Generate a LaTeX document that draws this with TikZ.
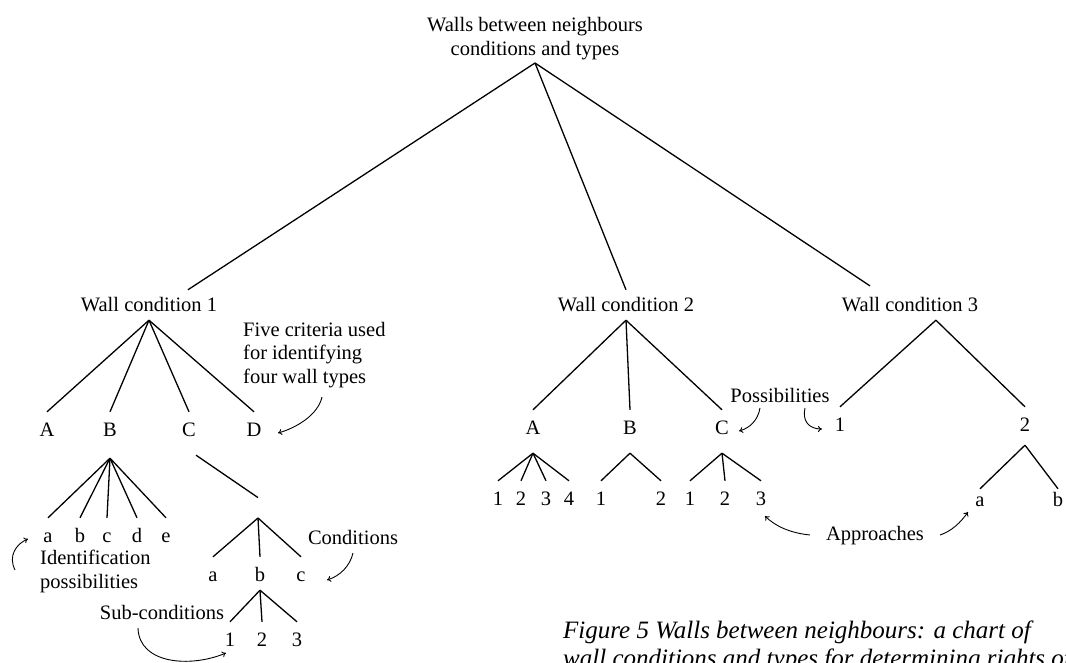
\documentclass[tikz,border=0pt]{standalone}
\usepackage{fontspec}
\setmainfont{Liberation Serif}
\usetikzlibrary{calc, arrows.meta}
\newcommand{\chartfont}{\fontsize{20.5}{23.5}\selectfont}
\newcommand{\captionfont}{\fontsize{25}{28}\selectfont\itshape}
\tikzset{
  heading/.style={font=\chartfont, anchor=base, inner sep=0pt, text height=21pt, text depth=9pt},
  item/.style={font=\chartfont, anchor=base, inner sep=0pt, text height=24pt, text depth=#1},
  item/.default=16pt,
  note/.style={font=\chartfont, align=left, anchor=north west, inner sep=0pt},
  label/.style={font=\chartfont, inner sep=0pt},
  branch/.style={line width=1.3pt},
  pointer/.style={line width=0.9pt, -{To[length=4pt, width=6pt]}},
}
\begin{document}
\begin{tikzpicture}[x=1pt, y=-1pt]
                \useasboundingbox (0,0) rectangle (1066,663);
                \clip (0,0) rectangle (1066,663);
                \node[font=\chartfont, align=center, anchor=south, inner sep=3pt] (root) at (535,63) {Walls between neighbours\\conditions and types};
                \node[heading] (wc1) at (149,311) {Wall condition 1};
                \node[heading] (wc2) at (626,311) {Wall condition 2};
                \node[heading] (wc3) at (910,311) {Wall condition 3};
                \draw[branch] (root.south) -- ($(wc1.north)!0.57!(wc1.north east)$);
                \draw[branch] (root.south) -- (wc2.north);
                \draw[branch, shorten >=7pt] (root.south) -- ($(wc3.north)!0.5!(wc3.north west)$);
                % wall condition 1
                \node[item=22pt] (w1a) at (47,436) {A};
                \node[item=22pt] (w1b) at (110,436) {B};
                \node[item=19pt] (w1c) at (189,436) {C};
                \node[item] (w1d) at (254,436) {D};
                \foreach \n in {w1a,w1b,w1c,w1d}
                    \draw[branch] (wc1.south) -- (\n.north);
                \foreach \n/\x in {a/48,b/80,c/107,d/137,e/166}
                    \node[item] (w1b\n) at (\x,542) {\n};
                \foreach \n in {a,b,c,d,e}
                    \draw[branch] (w1b.south) -- (w1b\n.north);
                \node[inner sep=0pt, minimum height=20pt, anchor=south] (w1cx) at (258,518) {};
                \draw[branch] (w1c.south east) -- (w1cx.north);
                \node[item] (w1ca) at (213,581) {a};
                \node[item=9pt] (w1cb) at (260,581) {b};
                \node[item] (w1cc) at (301,581) {c};
                \foreach \n in {w1ca,w1cb,w1cc}
                    \draw[branch] (w1cx.south) -- (\n.north);
                \foreach \n/\x in {1/230,2/262,3/297}
                    \node[item] (w1cb\n) at (\x,646) {\n};
                \foreach \n in {1,2,3}
                    \draw[branch] (w1cb.south) -- (w1cb\n.north);
                % wall condition 2
                \node[item=19pt] (w2a) at (533,434) {A};
                \node[item=19pt] (w2b) at (630,434) {B};
                \node[item=19pt] (w2c) at (722,434) {C};
                \foreach \n in {w2a,w2b,w2c}
                    \draw[branch] (wc2.south) -- (\n.north);
                \foreach \n/\x in {1/498,2/521,3/546,4/569}
                    \node[item] (w2a\n) at (\x,505) {\n};
                \foreach \n in {1,2,3,4}
                    \draw[branch] (w2a.south) -- (w2a\n.north);
                \foreach \n/\x in {1/601,2/661}
                    \node[item] (w2b\n) at (\x,505) {\n};
                \foreach \n in {1,2}
                    \draw[branch] (w2b.south) -- (w2b\n.north);
                \foreach \n/\x in {1/690,2/725,3/761}
                    \node[item] (w2c\n) at (\x,505) {\n};
                \foreach \n in {1,2,3}
                    \draw[branch] (w2c.south) -- (w2c\n.north);
                % wall condition 3
                \node[item] (w3one) at (840,431) {1};
                \node[item=14pt] (w3two) at (1025,431) {2};
                \draw[branch] ($(wc3.south)!0.38!(wc3.south east)$) -- (w3one.north);
                \draw[branch] ($(wc3.south)!0.38!(wc3.south east)$) -- (w3two.north);
                \node[item, text height=17pt] (w3a) at (980,506) {a};
                \node[item, text height=17pt] (w3b) at (1058,506) {b};
                \draw[branch] (w3two.south) -- (w3a.north);
                \draw[branch] (w3two.south) -- (w3b.north);
                % notes
                \node[note] (crit) at (243,322) {Five criteria used\\for identifying\\four wall types};
                \node[note] (ident) at (40,550) {Identification\\possibilities};
                \node[label] (cond) at (353,537) {Conditions};
                \node[label] (subc) at (162,612) {Sub-conditions};
                \node[label] (poss) at (780,395) {Possibilities};
                \node[label] (appr) at (875,536) {Approaches};
                \coordinate (crit-from) at (322,397);
                \coordinate (crit-to) at (278,433);
                \coordinate (ident-from) at (15,570);
                \coordinate (ident-to) at (28,539);
                \coordinate (cond-from) at (353,553);
                \coordinate (cond-to) at (327,580);
                \coordinate (subc-from) at (138,628);
                \coordinate (subc-to) at (226,653);
                \coordinate (poss-from-l) at (760,408);
                \coordinate (poss-to-l) at (739,431);
                \coordinate (poss-from-r) at (805,408);
                \coordinate (poss-to-r) at (822,429);
                \coordinate (appr-from-l) at (810,535);
                \coordinate (appr-to-l) at (765,516);
                \coordinate (appr-from-r) at (940,535);
                \coordinate (appr-to-r) at (968,512);
                \draw[pointer] (crit-from) .. controls (318,415) and (296,428) .. (crit-to);
                \draw[pointer] (ident-from) .. controls (8,556) and (16,544) .. (ident-to);
                \draw[pointer] (cond-from) .. controls (350,566) and (340,576) .. (cond-to);
                \draw[pointer] (subc-from) .. controls (139,664) and (190,668) .. (subc-to);
                \draw[pointer] (poss-from-l) .. controls (758,420) and (750,428) .. (poss-to-l);
                \draw[pointer] (poss-from-r) .. controls (802,421) and (809,429) .. (poss-to-r);
                \draw[pointer] (appr-from-l) .. controls (790,533) and (775,526) .. (appr-to-l);
                \draw[pointer] (appr-from-r) .. controls (952,531) and (961,522) .. (appr-to-r);
                % caption
                \node[note, font=\captionfont] (caption) at (563,621) {Figure 5 Walls between neighbours: a chart of\\wall conditions and types for determining rights of};
            \end{tikzpicture}
\end{document}
